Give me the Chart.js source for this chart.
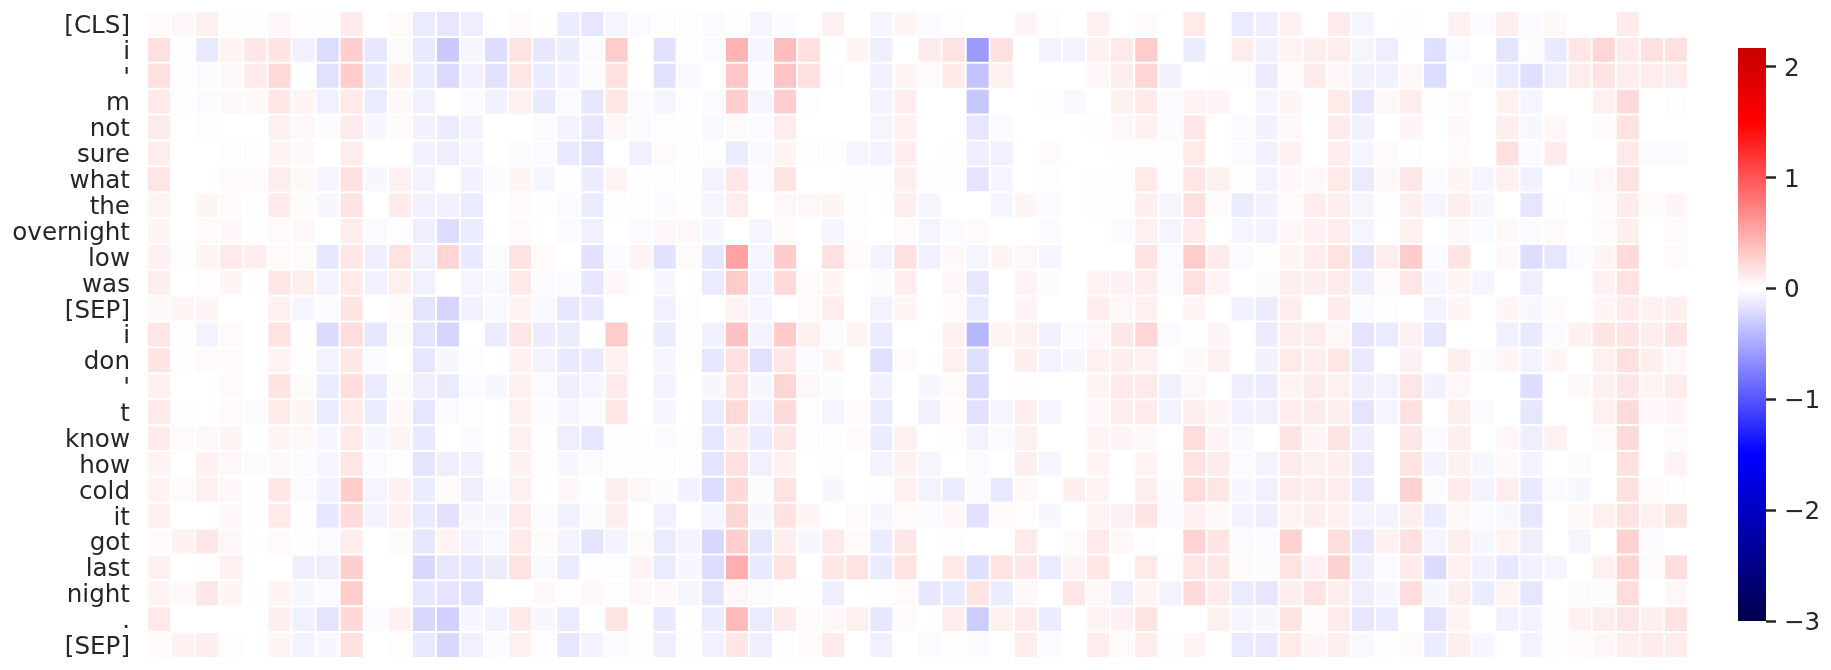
<!DOCTYPE html>
<html>
<head>
<meta charset="utf-8">
<title>Token heatmap</title>
<script src="https://cdn.jsdelivr.net/npm/chart.js@4"></script>
<style>
    html, body { margin: 0; padding: 0; background: #fff; overflow: hidden; }
    #heatmap { position: absolute; left: 0; top: 0; }
    #colorbar { position: absolute; left: 1700px; top: 0; }
</style>
</head>
<body>
<canvas id="heatmap" width="1700" height="670"></canvas>
<canvas id="colorbar" width="131" height="670"></canvas>
<script>
const tokens = ['[CLS]', 'i', "'", 'm', 'not', 'sure', 'what', 'the', 'overnight', 'low', 'was', '[SEP]',
    'i', 'don', "'", 't', 'know', 'how', 'cold', 'it', 'got', 'last', 'night', '.', '[SEP]'];

// one array per token row (64 columns)
const rowCls = [.03,.05,.09,.01,.01,.05,.01,.01,.12,0,.03,-.12,-.15,-.1,0,.03,0, -.11,-.15,-.06,-.03,-.01,-.01,-.03,.01,-.06,-.03,0,.09,0,-.06,.06,-.03,-.01,0,0,.06,-.01,0,.08, 0,.03,0,.13,0,-.12,-.1,.08,0,.12,-.06,0,.01,0,.08,-.03,.1,-.03,.04,0,0,.12,0,0];
const rowI = [.18,-.01,-.13,.07,.14,.16,-.09,-.2,.28,-.14,.03,-.13,-.32,-.05,-.2,.17,-.14, -.11,-.03,.3,0,-.17,-.01,-.03,.45,-.06,.39,.19,0,.06,-.1,0,.12,.17,-.58,.18,0,-.07,-.07,.09, .13,.3,0,-.11,0,.11,-.08,.07,.1,.11,-.06,-.1,0,-.19,-.03,0,-.16,-.02,-.13,.14,.24,.13,.18,.18];
const rowApos = [.18,-.01,-.03,.04,.12,.23,0,-.18,.3,-.13,.09,-.11,-.22,-.08,-.17,.15,-.11, -.08,-.03,.18,0,-.17,-.04,0,.33,-.03,.35,.18,-.01,0,-.09,.06,.03,.13,-.35,.09,0,0,0,.05, .1,.25,-.08,0,-.01,-.01,-.12,.03,.12,.05,-.08,-.08,.05,-.2,0,-.03,-.12,-.19,-.1,.11,.17,.11,.11,.11];
const rowM = [.13,-.01,-.03,.04,.04,.14,.07,-.09,.13,-.12,.04,-.08,0,-.03,-.08,.09,-.13, -.03,-.15,.15,-.03,-.06,-.01,-.03,.28,-.06,.29,-.01,0,0,-.07,.11,0,0,-.33,0,0,-.01,-.04,0, .09,.13,-.03,.07,.07,0,-.06,.06,-.01,.13,-.15,.04,.11,-.01,.03,0,.09,-.06,0,0,.09,.22,0,-.01];
const rowNot = [.12,0,-.01,0,0,.09,.05,-.02,.12,-.05,.03,-.08,-.11,-.07,0,0,-.03, -.07,-.15,.05,-.03,-.01,.01,-.04,.03,-.03,.11,0,0,0,-.06,.08,0,0,-.15,-.03,0,0,0,.02, .05,.08,-.03,.14,0,-.03,-.08,.05,0,.12,-.09,0,.06,0,.04,0,.1,-.05,.05,0,.03,.17,0,0];
const rowSure = [.11,0,0,-.01,-.01,.07,.04,0,.11,0,0,-.08,-.1,-.06,0,-.02,-.03, -.13,-.18,0,-.09,.03,-.01,-.01,-.11,-.04,.06,-.01,-.01,-.06,-.07,.11,0,-.01,-.1,-.09,0,.03,0,0, -.01,-.01,-.01,.13,0,-.03,-.08,.08,0,.11,-.06,.03,-.01,0,.03,0,.18,-.03,.12,0,0,.13,-.03,-.03];
const rowWhat = [.15,0,0,.03,.03,.11,.04,-.06,.18,-.05,.08,-.07,0,-.08,-.03,.06,-.06, -.01,-.11,.07,-.01,-.01,-.01,-.07,.14,-.03,.16,0,0,-.01,-.01,.1,-.01,-.01,-.16,-.06,0,-.01,0,.02, -.01,.13,-.01,.14,.09,-.01,-.07,.05,.05,.13,-.12,.04,.14,-.03,.06,-.06,.09,-.08,0,-.03,.05,.17,0,0];
const rowThe = [.07,0,.06,.03,-.01,.12,.03,-.05,.16,0,.12,-.09,-.08,-.12,0,.03,.01, -.03,-.12,-.01,-.01,-.03,.01,-.06,.11,0,.05,.05,.06,-.01,0,.1,-.06,0,0,-.06,.06,-.03,0,.02, -.01,.1,-.06,.18,.03,-.12,-.08,.03,.11,.11,-.06,-.01,.1,-.06,.1,-.05,0,-.15,-.01,0,.03,.12,.03,.06];
const rowOvernight = [.06,0,.03,.05,0,.03,.05,0,.11,-.03,-.01,-.1,-.2,-.11,0,.03,0, -.03,-.09,0,-.03,.05,.05,-.05,0,-.06,.03,0,-.06,-.01,0,.03,-.06,-.03,.03,0,0,-.03,0,0, -.03,.09,-.06,.12,0,-.06,-.07,.05,.08,.11,-.06,0,.09,0,.04,-.03,.04,-.03,.03,0,.03,.1,0,.03];
const rowLow = [.08,-.01,.06,.13,.1,.03,.03,-.14,.15,-.1,.17,-.09,.24,-.13,-.03,.16,.03, 0,-.17,-.03,.07,-.17,.03,-.15,.55,-.06,.3,0,.18,.03,-.07,.18,-.09,.05,-.06,.06,.05,-.06,0,0, 0,.17,-.03,.3,.12,-.03,.02,.06,.11,.17,-.16,.11,.3,-.03,.16,0,.04,-.2,-.15,-.03,.06,.22,0,.03];
const rowWas = [.1,0,.02,.06,0,.14,.1,-.07,.13,-.08,.09,-.09,0,-.06,-.04,.13,-.03, -.03,-.15,.05,0,-.05,0,-.12,.3,-.07,.22,.03,.06,0,-.02,.11,0,.05,-.15,0,.07,-.02,0,.07, .08,.11,-.03,.18,.07,0,-.02,.1,.1,.12,-.1,.03,.15,-.05,.06,-.06,0,-.1,0,0,.08,.17,0,0];
const rowSep1 = [.04,.06,.06,0,0,.08,-.06,-.03,.16,0,.03,-.16,-.25,-.08,-.04,.07,-.04, -.15,-.13,0,0,-.09,-.01,0,.07,-.06,0,.03,.11,0,-.07,.06,0,.03,-.12,0,.06,0,0,.11, .05,.09,0,.06,0,-.08,-.11,.11,0,.12,-.03,-.01,0,-.07,.06,0,.06,-.05,.03,0,.06,.12,.08,.1];
const rowI2 = [.15,-.01,-.07,.03,0,.17,0,-.21,.2,-.15,.03,-.16,-.25,0,-.11,.15,-.11, -.11,0,.3,0,-.11,-.01,-.08,.36,-.07,.31,.09,-.03,.06,-.12,0,0,.09,-.42,.06,.09,-.08,-.03,.05, .14,.25,-.03,-.01,.06,0,-.12,.1,.11,.05,-.16,-.12,.08,-.15,0,0,-.09,-.13,-.03,.08,.16,.16,.11,.16];
const rowDon = [.16,.01,.03,.03,0,.07,-.01,-.07,.14,-.03,0,-.15,-.05,-.01,0,.08,-.07, -.13,-.13,.09,0,-.06,.01,-.14,.18,-.17,.14,-.03,.06,0,-.18,.03,0,.09,-.19,0,.1,-.07,-.05,.08, .1,.08,0,.04,.09,0,-.08,.13,.1,.14,-.13,0,.08,0,.1,-.02,.06,-.07,.06,0,.09,.19,.1,.05];
const rowApos2 = [.09,0,0,.03,0,.16,.03,-.12,.2,-.12,.03,-.1,-.12,-.03,-.05,.09,-.03, -.1,-.06,.12,0,-.07,0,-.05,.17,-.05,.24,.05,-.02,0,-.09,0,-.05,.03,-.22,0,.01,0,0,.07, .13,.13,-.09,.05,0,-.1,-.11,.07,.12,.09,-.1,-.07,.15,-.08,.05,0,0,-.2,0,.04,.09,.15,.07,.11];
const rowT = [.13,-.01,0,.03,-.03,.13,.06,-.12,.13,-.11,.05,-.15,-.03,-.01,0,.09,-.03, -.06,-.03,.15,0,-.06,0,-.12,.23,-.09,.22,-.01,-.06,.03,-.12,0,-.08,.03,-.17,-.06,.1,-.06,0,.05, .11,.12,-.07,.1,.06,-.08,-.09,.11,.12,.1,-.16,-.06,.18,0,.1,-.03,0,-.15,0,0,.09,.22,.05,.06];
const rowKnow = [.12,.03,.04,.06,0,.06,.04,-.05,.13,-.05,.06,-.13,0,-.03,0,.09,.01, -.1,-.15,-.01,-.01,-.03,-.01,-.15,.12,-.11,.14,-.01,-.01,.03,-.11,.09,0,.02,-.07,-.03,.09,0,0,.06, .06,.04,0,.2,.07,-.04,0,.16,.06,.16,-.1,0,.14,-.03,.1,0,.05,-.1,.08,0,.03,.22,0,.03];
const rowHow = [.07,0,.08,.05,-.03,.04,-.03,-.06,.15,-.03,-.01,-.16,-.1,-.09,0,.08,-.01, -.05,-.03,-.01,-.01,-.01,-.01,-.16,.18,-.09,.08,0,-.01,0,-.07,.08,-.06,0,-.03,0,.1,-.06,0,.07, 0,.07,-.01,.17,.12,-.03,-.07,.12,.09,.1,-.12,0,.16,-.07,.08,-.05,.04,-.07,0,-.02,0,.18,0,.07];
const rowCold = [.07,.03,.09,.05,0,.14,-.03,-.08,.3,-.06,.08,-.11,.03,-.1,-.03,.09,0, .05,0,.1,.05,-.02,-.08,-.2,.22,-.02,.17,0,-.05,0,-.01,.09,-.07,-.11,-.02,-.13,.05,0,.1,.07, 0,.1,-.02,.2,.15,-.05,-.09,.12,.11,.11,-.13,0,.27,-.02,.12,-.07,.11,-.13,-.03,-.05,0,.18,.03,.02];
const rowIt = [.09,0,0,.05,0,.13,0,-.14,.22,-.07,.08,-.13,-.17,-.05,-.05,.12,-.03, -.09,-.03,.1,0,-.09,0,-.06,.24,-.05,.17,.06,0,.03,-.05,.03,-.03,.05,-.17,.03,.02,-.05,0,.07, .08,.16,-.03,.08,.04,-.07,-.1,.07,.1,.09,-.07,-.07,.1,-.11,.05,-.03,-.05,-.15,0,.04,.09,.17,.09,.16];
const rowGot = [.03,.08,.14,.05,0,.03,-.01,-.03,.11,0,.03,-.15,.07,-.07,-.04,.13,.03, -.07,-.16,-.07,.03,-.12,-.07,-.23,.28,-.14,.1,-.05,.12,.03,-.11,.14,0,-.01,0,0,.13,0,.03,.13, .05,-.01,0,.26,.16,-.03,-.03,.27,0,.2,-.15,.08,.18,-.06,.11,-.05,.07,-.1,0,-.06,0,.27,-.03,0];
const rowLast = [.08,0,.01,.08,0,0,-.1,-.1,.28,0,0,-.23,-.15,-.14,-.11,.17,-.04, -.12,-.01,-.01,.07,-.12,-.05,-.2,.47,-.13,.17,0,.14,.17,-.12,.17,0,.13,-.19,.17,.14,-.12,.07,.14, 0,.13,-.01,.15,.14,.03,-.02,.17,.08,.27,-.1,-.03,.12,-.21,.09,-.08,-.14,-.08,-.06,0,.09,.26,.03,.2];
const rowNight = [.07,.04,.14,.06,0,.07,-.05,-.03,.3,0,0,-.14,-.16,-.17,0,0,.04, -.01,.04,-.01,.05,.04,-.06,-.16,.05,-.03,.01,-.01,-.1,0,-.01,.03,-.14,-.13,.17,-.11,.05,0,.14,.05, -.1,.06,-.07,.21,.12,-.12,-.15,.1,.17,.1,-.1,-.05,.2,-.05,.1,-.11,.07,-.15,0,-.02,-.02,.2,0,.05];
const rowDot = [.13,0,0,0,0,.1,-.09,-.16,.23,-.03,.08,-.23,-.27,-.05,-.07,.13,-.05, -.12,0,.16,0,-.13,0,-.11,.4,-.12,.12,.03,.05,.09,-.14,.03,0,.11,-.3,.09,.12,-.11,0,.07, .08,.16,0,0,.09,-.06,-.05,.16,.03,.12,-.15,-.11,0,-.16,.07,0,-.08,-.07,-.01,.08,.11,.15,.1,.17];
const rowSep2 = [.03,.08,.1,.02,0,.06,-.07,-.05,.18,0,.02,-.13,-.23,-.09,-.03,.09,-.01, -.15,-.07,-.03,-.01,-.1,-.01,-.08,.15,-.1,-.01,.03,.12,0,-.09,0,-.03,.02,-.03,0,.11,-.03,0,.11, .03,.11,-.01,.06,0,-.12,-.13,.13,.06,.1,-.04,-.01,.03,-.11,.1,-.05,0,-.07,-.01,.03,.05,.1,.12,.11];

const rows = [rowCls, rowI, rowApos, rowM, rowNot, rowSure, rowWhat, rowThe, rowOvernight, rowLow, rowWas, rowSep1,
    rowI2, rowDon, rowApos2, rowT, rowKnow, rowHow, rowCold, rowIt, rowGot, rowLast, rowNight, rowDot, rowSep2];
const columns = rowCls.map((_, i) => i);

const colorbarTicks = [-3, -2, -1, 0, 1, 2];
const vmin = -3;
const vmax = 2.17;

// seismic colormap centred on 0, as value -> rgb
const seismicStops = [
    [-3, [0, 0, 76]],
    [-1.5, [0, 0, 255]],
    [0, [255, 255, 255]],
    [1.5, [255, 0, 0]],
    [3, [128, 0, 0]]
];

function colorFor(v) {
    for (let i = 1; i < seismicStops.length; i++) {
        const [v0, c0] = seismicStops[i - 1];
        const [v1, c1] = seismicStops[i];
        if (v <= v1) {
            const t = (v - v0) / (v1 - v0);
            const c = c0.map((a, k) => Math.round(a + (c1[k] - a) * t));
            return `rgb(${c[0]},${c[1]},${c[2]})`;
        }
    }
    return 'rgb(128,0,0)';
}

Chart.defaults.font.family = '"DejaVu Sans"';
const textColor = '#262626';

new Chart(document.getElementById('heatmap'), {
    type: 'bar',
    data: {
        labels: columns,
        datasets: rows.map((vals, r) => ({
            label: tokens[r],
            data: columns.map(() => [r, r + 1]),
            backgroundColor: vals.map(colorFor),
            borderColor: '#fff',
            borderWidth: 1,
            borderSkipped: false,
            inflateAmount: 0,
            grouped: false,
            barPercentage: 1,
            categoryPercentage: 1
        }))
    },
    options: {
        responsive: false,
        animation: false,
        events: [],
        layout: { padding: { top: 11, bottom: 12, right: 12, left: 0 } },
        plugins: { legend: { display: false }, tooltip: { enabled: false } },
        scales: {
            x: { display: false, offset: true },
            y: {
                reverse: true,
                min: 0,
                max: tokens.length,
                border: { display: false },
                grid: { display: false, drawTicks: false },
                afterFit: scale => {
                    scale.width = 147;
                    scale.paddingTop = 0;
                    scale.paddingBottom = 0;
                },
                afterBuildTicks: scale => {
                    scale.ticks = tokens.map((_, i) => ({ value: i + 0.5 }));
                },
                ticks: {
                    autoSkip: false,
                    padding: 17,
                    labelOffset: 2.5,
                    color: textColor,
                    font: { size: 24.6 },
                    callback: (value) => tokens[Math.floor(value)]
                }
            }
        }
    }
});

new Chart(document.getElementById('colorbar'), {
    type: 'bar',
    data: {
        labels: ['scale'],
        datasets: [{
            data: [[vmin, vmax]],
            backgroundColor: ctx => {
                const { ctx: canvasCtx, chartArea } = ctx.chart;
                if (!chartArea) return '#fff';
                const grad = canvasCtx.createLinearGradient(0, chartArea.bottom, 0, chartArea.top);
                const stops = seismicStops.map(s => s[0]).filter(v => v < vmax).concat([vmax]);
                stops.forEach(v => grad.addColorStop((v - vmin) / (vmax - vmin), colorFor(v)));
                return grad;
            },
            borderWidth: 0,
            inflateAmount: 0,
            barPercentage: 1,
            categoryPercentage: 1
        }]
    },
    options: {
        responsive: false,
        animation: false,
        events: [],
        layout: { padding: { top: 48, bottom: 49, left: 38, right: 0 } },
        plugins: { legend: { display: false }, tooltip: { enabled: false } },
        scales: {
            x: { display: false },
            y: {
                position: 'right',
                min: vmin,
                max: vmax,
                border: { display: false },
                grid: { drawOnChartArea: false, tickLength: 10, tickWidth: 2.5, tickColor: textColor },
                afterFit: scale => {
                    scale.width = 65;
                    scale.paddingTop = 0;
                    scale.paddingBottom = 0;
                },
                afterBuildTicks: scale => {
                    scale.ticks = colorbarTicks.map(v => ({ value: v }));
                },
                ticks: {
                    padding: 8,
                    labelOffset: 2.5,
                    color: textColor,
                    font: { size: 24.6 },
                    callback: v => (v < 0 ? '\u2212' + (-v) : String(v))
                }
            }
        }
    }
});
</script>
</body>
</html>
